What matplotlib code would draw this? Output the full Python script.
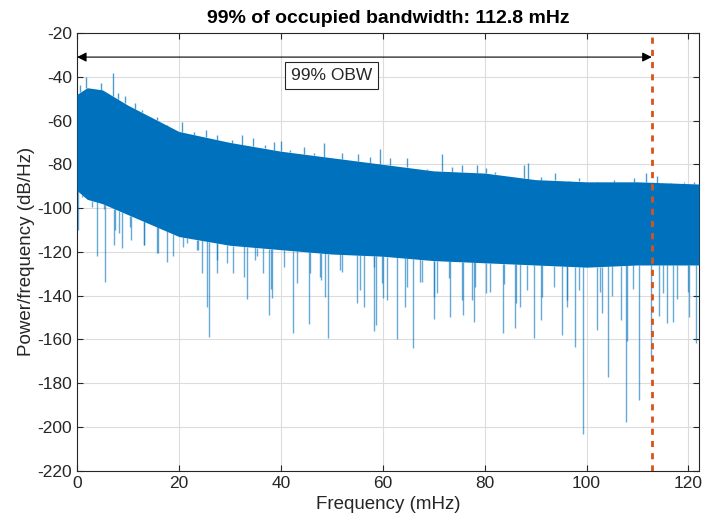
import numpy as np
import matplotlib
matplotlib.use('Agg')
import matplotlib.pyplot as plt

plt.rcParams['font.family'] = ['Liberation Sans', 'DejaVu Sans']
plt.rcParams['axes.unicode_minus'] = False

# Dense body of the spectrum, mHz / dB/Hz
freq_env = [0, 2, 5, 10, 15, 20, 30, 40, 50, 60, 70, 80, 90, 100, 110, 122.07]
core_top = [-48, -45, -46, -53, -59, -65, -70, -74, -77, -80, -83, -84, -87, -88, -88, -89]
core_bot = [-92, -96, -98, -103, -108, -113, -117, -119, -121, -122, -124, -125, -126, -127, -126, -126]

# Upward spikes: frequency and peak level
up_freq = [0.3, 0.6, 1.8, 3.2, 4.8, 5.8, 7.0, 8.1, 9.4, 11.4, 12.7, 14.3, 15.7, 17.6,
           20.6, 22.9, 25.3, 27.4, 30.4, 32.4, 34.6, 36.9, 38.6, 40.0, 41.8, 44.5,
           46.5, 48.4, 52.0, 55.1, 57.6, 59.5, 61.5, 64.7, 66.7, 68.6, 71.6, 73.5,
           75.5, 78.5, 80.2, 82.1, 85.7, 87.7, 88.5, 91.0, 93.9, 96.5, 98.5, 102.1,
           105.4, 109.3, 111.6, 113.9, 116.5, 119.1, 121.1]
up_val = [-47.6, -43.8, -40, -46, -42.7, -46.8, -38.4, -47.6, -49, -51.8, -55.2, -59,
          -58.2, -64.3, -60.5, -65.1, -64.3, -66.6, -68.9, -66.6, -68.1, -71.2, -69.7,
          -69.2, -73.5, -72, -75, -70.1, -75, -75.3, -76.5, -73.2, -77, -77.3, -82.6,
          -82, -75.3, -81.1, -80.3, -80.3, -81.9, -83.4, -85.7, -80.3, -79.3, -85.7,
          -84.1, -88, -86.4, -88.7, -87.2, -86.4, -84.1, -85.4, -91, -88, -88]

# Deep downward spikes: frequency and lowest level
down_freq = [0.1, 0.9, 3.0, 3.9, 5.2, 5.5, 7.5, 8.3, 8.8, 10.4, 13.2, 15.8, 17.6, 18.9,
             20.9, 23.8, 24.5, 25.5, 25.9, 27.4, 30.7, 33.3, 35.0, 36.6, 37.7, 38.2,
             42.4, 45.6, 47.7, 48.7, 49.3, 52.0, 55.0, 56.4, 58.2, 58.7, 60.1, 60.8,
             62.8, 64.4, 65.9, 67.7, 70.1, 70.7, 73.3, 75.8, 77.5, 78.0, 80.2, 83.6,
             86.0, 87.0, 89.6, 91.0, 95.2, 96.2, 97.7, 99.4, 102.1, 103.0, 104.2,
             106.7, 107.7, 108.0, 110.3, 112.6, 114.3, 115.8, 117.0, 120.1, 121.5]
down_val = [-110, -94.8, -99.4, -122, -100.6, -133.7, -110, -111.5, -118.3, -108.5,
            -117, -120.6, -124.7, -122, -117.7, -119.2, -129.7, -145, -159, -123.7,
            -129.7, -141.6, -123.7, -129.7, -149, -141, -157, -153, -131.4, -140.7,
            -159.5, -129, -143.5, -145, -156, -153.5, -141, -142, -160, -145, -164,
            -134, -150.7, -138.8, -149.6, -149, -142, -152, -138.9, -157, -155, -145,
            -159.5, -151, -158, -145, -163.4, -203.3, -155.7, -148, -177, -151, -197.8,
            -160.6, -187.7, -168, -149.4, -152.6, -152, -149.6, -161.5]

# Shorter downward spikes just under the body
mid_freq = [7.2, 10.5, 13.1, 15.7, 21.6, 23.6, 27.5, 29.5, 32.7, 35.3, 38.0, 40.6,
            43.2, 45.8, 47.8, 51.7, 55.6, 58.2, 59.9, 64.8, 67.4, 70.0, 73.0, 75.6,
            78.2, 81.1, 83.8, 86.1, 88.4, 91.3, 93.6, 96.2, 98.5, 102.7, 105.0,
            109.2, 115.1, 117.7, 120.0]
mid_val = [-116.9, -114.6, -116.9, -120.7, -116.1, -119.1, -129.7, -125.3, -131.4,
           -122, -137, -126.8, -134.4, -129.7, -132.7, -128.2, -137.4, -126.8, -134.4,
           -136, -133.7, -140.5, -132, -142, -136, -138.4, -134.6, -143.5, -137.6,
           -140.5, -136, -142, -137.6, -138.4, -140, -137, -139, -141.5, -138.4]

obw = 112.8
blue = '#0072BD'

fig = plt.figure(figsize=(7.02, 5.29), dpi=100)
ax = fig.add_axes([0.1097, 0.1102, 0.8860, 0.8274])

ax.fill_between(freq_env, core_bot, core_top, color=blue, lw=0, zorder=3)
ax.vlines(up_freq, np.interp(up_freq, freq_env, core_top), up_val,
          color=blue, lw=1.0, alpha=0.7, zorder=3)
ax.vlines(down_freq, np.interp(down_freq, freq_env, core_bot), down_val,
          color=blue, lw=1.0, alpha=0.6, zorder=3)
ax.vlines(mid_freq, np.interp(mid_freq, freq_env, core_bot), mid_val,
          color=blue, lw=1.0, alpha=0.6, zorder=3)

ax.axvline(obw, color='#D95319', lw=2, ls=(0, (2.2, 2.2)), zorder=4)
ax.annotate('', xy=(0, -31), xytext=(obw, -31),
            arrowprops=dict(arrowstyle='<|-|>', color='black', lw=0.8,
                            mutation_scale=14, shrinkA=0, shrinkB=0), zorder=5)
ax.text(50, -39.5, '99% OBW', ha='center', va='center', fontsize=12.5, color='#262626',
        bbox=dict(boxstyle='square,pad=0.35', fc='white', ec='#262626', lw=0.8), zorder=6)

ax.set_xlim(0, 122.07)
ax.set_ylim(-220, -20)
ax.set_xticks(np.arange(0, 121, 20))
ax.set_yticks(np.arange(-220, -19, 20))
ax.grid(True, color='#dcdcdc', lw=0.8, zorder=0)
ax.set_axisbelow(True)
ax.tick_params(direction='in', length=4, labelsize=12.5, colors='#262626',
               top=True, right=True)
for s in ax.spines.values():
    s.set_color('#262626')
    s.set_linewidth(0.8)

ax.set_xlabel('Frequency (mHz)', fontsize=13.5, color='#262626', labelpad=4)
ax.set_ylabel('Power/frequency (dB/Hz)', fontsize=13.5, color='#262626', labelpad=2)
ax.set_title('99% of occupied bandwidth: 112.8 mHz', fontsize=14, fontweight='bold',
             pad=7)

fig.savefig('out.png', dpi=100)
